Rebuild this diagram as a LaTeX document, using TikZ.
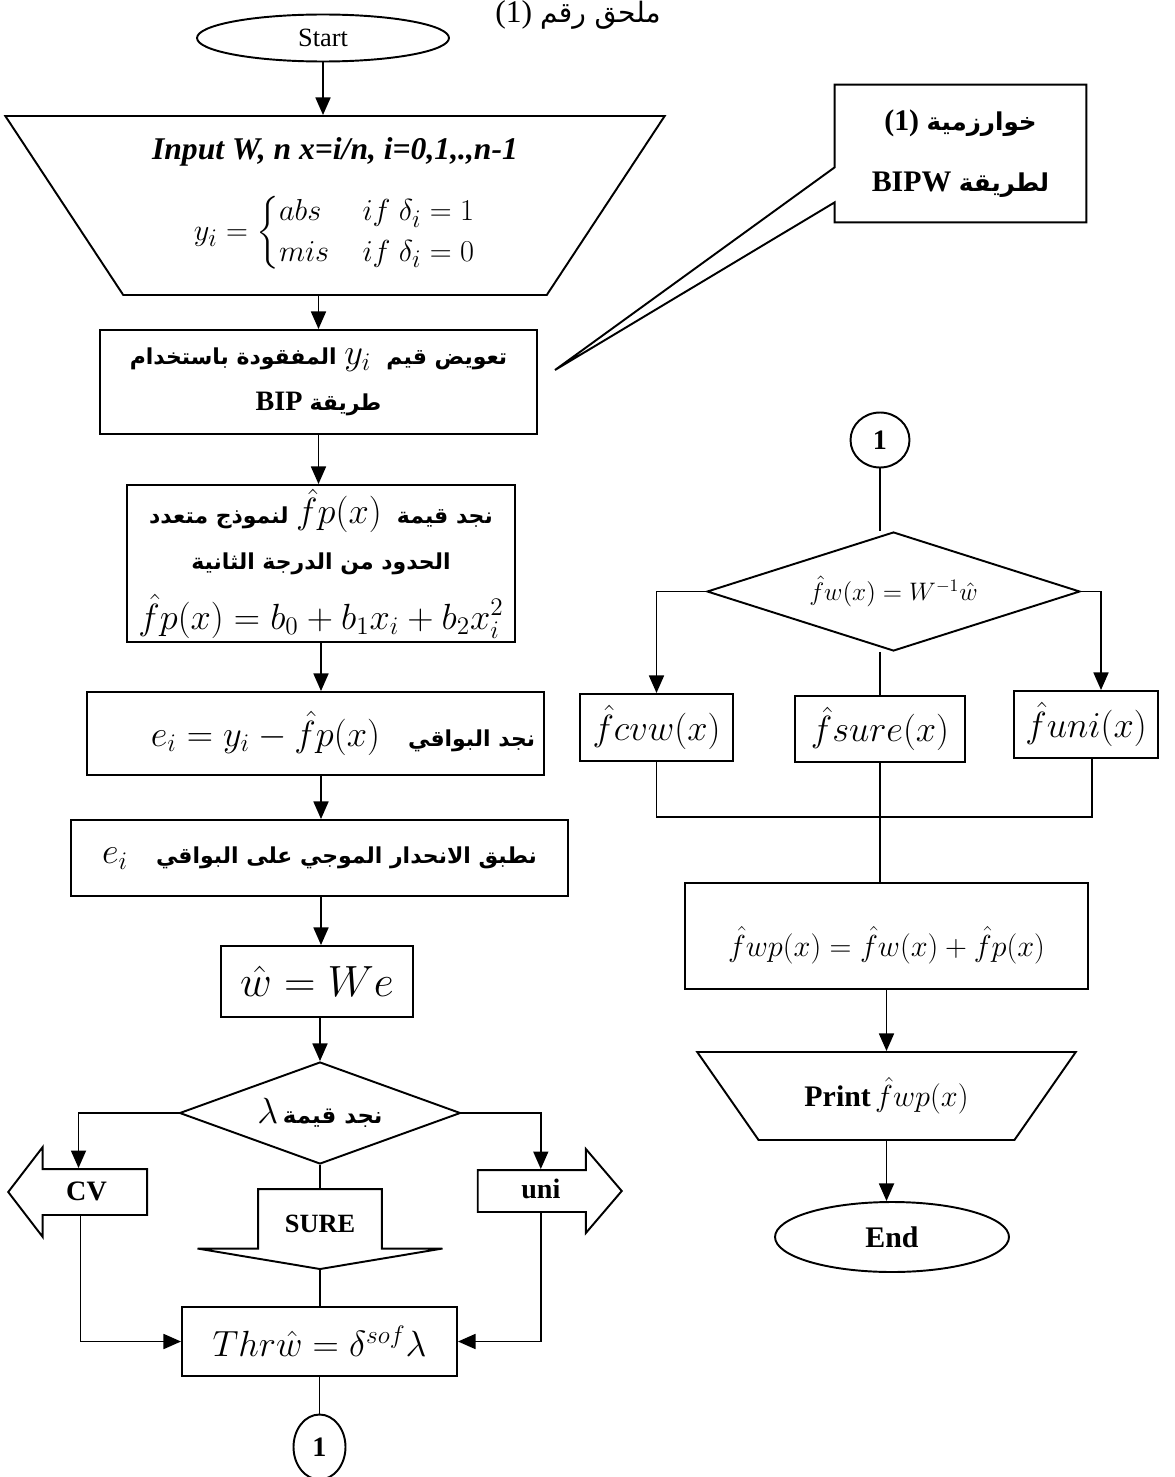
\documentclass[tikz,border=0pt]{standalone}
\usepackage{amsmath}
\usepackage{fontspec}
\setmainfont{Liberation Serif}
\newfontfamily\arabicfont[Script=Arabic]{DejaVu Sans}
\TeXXeTstate=1
\usepackage{tikz}
\usetikzlibrary{shapes.geometric,shapes.arrows,arrows.meta,calc}

\newcommand{\artxt}[2][12.5]{{\arabicfont\fontsize{#1}{#1}\selectfont\beginR #2\endR}}
\newcommand{\fsz}[1]{\fontsize{#1}{#1}\selectfont}

\tikzstyle{block} = [rectangle, draw, line width=1.1pt, align=center,
    inner sep=2pt, font=\fsz{16}\bfseries]
\tikzstyle{decision} = [diamond, draw, line width=1.1pt, inner sep=0pt,
    font=\fsz{16}\bfseries]
\tikzstyle{terminal} = [ellipse, draw, line width=1.1pt, inner sep=0pt,
    font=\fsz{16}\bfseries]
\tikzstyle{io} = [trapezium, draw, line width=1.1pt, shape border rotate=180,
    trapezium stretches=true, inner sep=0pt, align=center]
\tikzstyle{branch} = [single arrow, draw, line width=1.1pt, inner sep=0pt,
    single arrow head indent=0pt, font=\fsz{16}\bfseries]
\tikzstyle{flow} = [draw, line width=1.1pt, -{Triangle[length=10pt,width=8.5pt]}]
\tikzstyle{plain} = [draw, line width=1.1pt]

\begin{document}
\begin{tikzpicture}[x=0.02cm, y=-0.02cm]
    \useasboundingbox (0,0) rectangle (1175,1477);
    % Title
    \node [font=\fsz{18}] (title) at (578,15) {(1) \artxt[16]{ملحق رقم}};

    % Main column
    \node [terminal, font=\fsz{15}, minimum width=5.04cm, minimum height=0.94cm] (start) at (323,38) {Start};
    \node [io, trapezium angle=53, minimum width=13.2cm, minimum height=3.58cm] (input) at (335,205.5)
        {{\fsz{18}\bfseries\itshape Input W, n x=i/n, i=0,1,.,n-1}\\[14pt]
         {\fsz{19}$y_i=\begin{cases} abs & if\ \delta_i=1\\ mis & if\ \delta_i=0\end{cases}$}};
    \node [block, minimum width=8.74cm, minimum height=2.08cm] (bip) at (318.5,382)
        {\artxt{تعويض قيم \ \beginL{\fsz{20}$y_i$}\endL{}\ المفقودة باستخدام}\\[10pt]
         BIP \artxt{طريقة}};
    \node [block, minimum width=7.76cm, minimum height=3.14cm] (poly) at (321,563.5)
        {\artxt{نجد قيمة \ \beginL{\fsz{20}$\hat{f}p(x)$}\endL{} لنموذج متعدد}\\[10pt]
         \artxt{الحدود من الدرجة الثانية}\\[10pt]
         {\fsz{21}$\hat{f}p(x)=b_0+b_1x_i+b_2x_i^2$}};
    \node [block, minimum width=9.14cm, minimum height=1.66cm] (resid) at (315.5,733.5)
        {\hspace*{1.1cm}{\fsz{21}$e_i=y_i-\hat{f}p(x)$}\quad\artxt{نجد البواقي}};
    \node [block, minimum width=9.94cm, minimum height=1.52cm] (wave) at (319.5,858)
        {{\fsz{20}$e_i$}\quad\artxt{نطبق الانحدار الموجي على البواقي}};
    \node [block, minimum width=3.84cm, minimum height=1.42cm] (what) at (317,981.5)
        {{\fsz{24}$\hat{w}=We$}};
    \node [decision, aspect=2.75, minimum width=5.62cm, minimum height=2.04cm] (lam) at (320,1113)
        {{\fsz{20}$\lambda$}\,\artxt[13]{نجد قيمة}};

    % Threshold rules
    \node [branch, shape border rotate=180, anchor=tip, minimum height=2.78cm,
        text height=0.6cm, text depth=0.28cm, single arrow head extend=0.44cm,
        single arrow tip angle=105] (cv) at (7,1192) {CV};
    \node [branch, anchor=tip, minimum height=2.88cm,
        text height=0.55cm, text depth=0.25cm, single arrow head extend=0.42cm,
        single arrow tip angle=99] (uni) at (623,1191) {uni};
    \node [branch, shape border rotate=270, anchor=tip, minimum height=1.6cm,
        text width=2.44cm, align=center, single arrow head extend=1.21cm,
        single arrow tip angle=161, font=\fsz{15}\bfseries] (sure) at (320,1270) {SURE};
    \node [block, minimum width=5.5cm, minimum height=1.38cm] (thr) at (319.5,1341.5)
        {{\fsz{22}$Thr\hat{w}=\delta^{sof}\lambda$}};
    \node [terminal, minimum width=1.04cm, minimum height=1.3cm] (conA) at (319.5,1447) {1};

    % Callout
    \node [align=center, inner sep=0pt, minimum width=5.02cm, minimum height=2.74cm,
        font=\fsz{17}\bfseries] (alg) at (960.5,153.5)
        {(1) \artxt[14]{خوارزمية}\\[18pt] BIPW \artxt[14]{لطريقة}};
    \coordinate (tip) at (555,370);
    \draw [plain] (alg.south west) -- ($(alg.south west)+(0,-20)$) -- (tip)
        -- ($(alg.south west)+(0,-55)$) -- (alg.north west) -- (alg.north east)
        -- (alg.south east) -- cycle;

    % Second column
    \node [terminal, minimum width=1.18cm, minimum height=1.1cm] (conB) at (880,440) {1};
    \node [decision, aspect=3.13, minimum width=7.46cm, minimum height=2.38cm] (fw) at (893.5,591.5)
        {{\fsz{14}$\hat{f}w(x)=W^{-1}\hat{w}$}};
    \node [block, minimum width=3.06cm, minimum height=1.34cm] (fcvw) at (656.5,727.5)
        {{\fsz{20}$\hat{f}cvw(x)$}};
    \node [block, minimum width=3.4cm, minimum height=1.32cm] (fsure) at (880,729)
        {{\fsz{20}$\hat{f}sure(x)$}};
    \node [block, minimum width=2.88cm, minimum height=1.34cm] (funi) at (1086,724.5)
        {{\fsz{20}$\hat{f}uni(x)$}};
    \coordinate (bus) at (880,817);
    \node [block, minimum width=8.06cm, minimum height=2.12cm, text height=0.9cm,
        text depth=0.1cm] (fwp) at (886.5,936)
        {{\fsz{19}$\hat{f}wp(x)=\hat{f}w(x)+\hat{f}p(x)$}};
    \node [io, trapezium angle=43, minimum width=7.58cm, minimum height=1.76cm] (print) at (886.5,1096)
        {{\fsz{17}\bfseries Print} {\fsz{18}$\hat{f}wp(x)$}};
    \node [terminal, font=\fsz{17}\bfseries, minimum width=4.68cm, minimum height=1.4cm] (end) at (892,1237) {End};

    % Draw edges
    \draw [flow] (start.south) -- (start.south |- input.north);
    \draw [flow] (bip.north |- input.south) -- (bip.north);
    \draw [flow] (bip.south) -- (bip.south |- poly.north);
    \draw [flow] (poly.south) -- (poly.south |- resid.north);
    \draw [flow] (poly.south |- resid.south) -- (poly.south |- wave.north);
    \draw [flow] (poly.south |- wave.south) -- (poly.south |- what.north);
    \draw [flow] (lam.north |- what.south) -- (lam.north);
    \draw [flow] (lam.west) -| ([xshift=-0.16cm]cv.north);
    \draw [flow] (lam.east) -| (uni.north);
    \draw [plain] (lam.south) -- (sure.tail);
    \draw [plain] (sure.tip) -- (sure.tip |- thr.north);
    \draw [flow] ([xshift=-0.12cm]cv.south) |- (thr.west);
    \draw [flow] (uni.south) |- (thr.east);
    \draw [plain] (thr.south) -- (conA);

    \draw [plain] (conB.south) -- (conB.south |- fw.north);
    \draw [flow] (fw.west) -| (fcvw.north);
    \draw [flow] (fw.east) -| ([xshift=0.3cm]funi.north);
    \draw [plain] (fsure.north |- fw.south) -- (fsure.north);
    \draw [plain] (fcvw.south) |- (bus) -| ([xshift=0.12cm]funi.south);
    \draw [plain] (fsure.south) -- (fsure.south |- fwp.north);
    \draw [flow] (fwp.south) -- (fwp.south |- print.north);
    \draw [flow] (print.south) -- (print.south |- end.north);
\end{tikzpicture}
\end{document}
